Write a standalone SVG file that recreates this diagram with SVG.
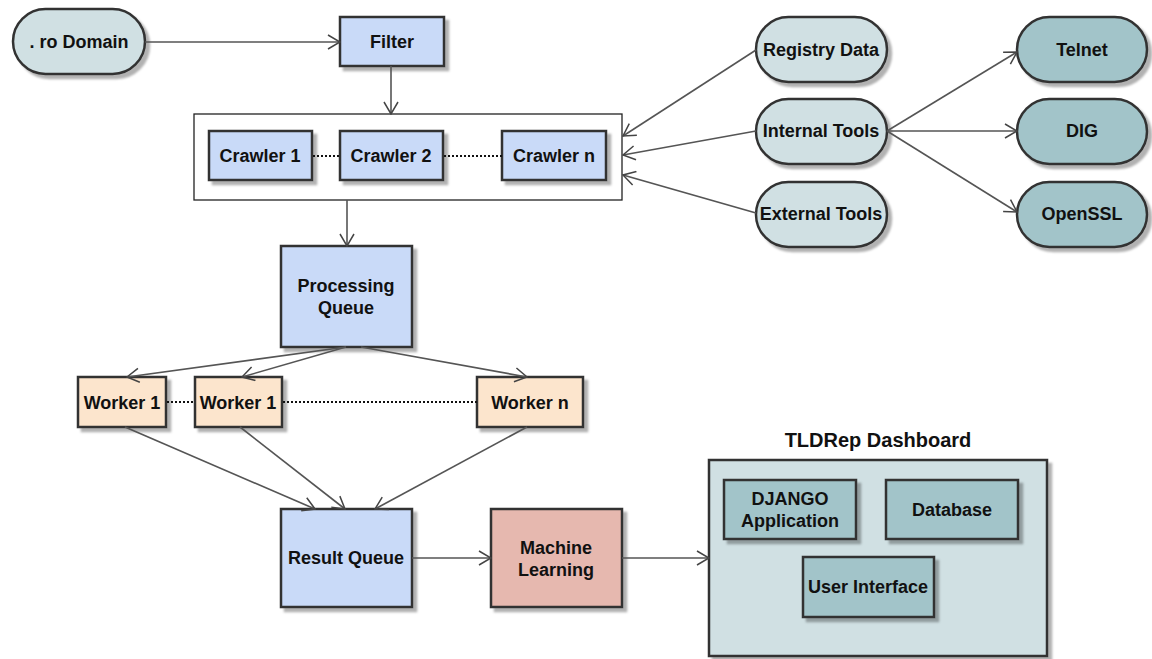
<svg xmlns="http://www.w3.org/2000/svg" width="1152" height="659" viewBox="0 0 1152 659">
<defs>
<filter id="sh" x="-10%" y="-10%" width="130%" height="130%">
<feDropShadow dx="4" dy="4" stdDeviation="1" flood-color="#000" flood-opacity="0.3"/>
</filter>
<marker id="arr" viewBox="0 0 14 16" refX="13" refY="8" markerWidth="14" markerHeight="16" markerUnits="userSpaceOnUse" orient="auto">
<path d="M1,1 L13,8 L1,15" fill="none" stroke="#444" stroke-width="1.5"/>
</marker>
</defs>
<style>
text{font-family:"Liberation Sans",Arial,sans-serif;font-weight:bold;font-size:18px;fill:#111;text-anchor:middle;dominant-baseline:central}
.box{stroke:#333;stroke-width:2.5;filter:url(#sh)}
.blue{fill:#c9daf8}
.pill{fill:#d0e0e3}
.teal{fill:#a2c4c9}
.work{fill:#fce5cd}
.ml{fill:#e6b8af}
.edge{fill:none;stroke:#555;stroke-width:1.6;marker-end:url(#arr)}
.dot{fill:none;stroke:#111;stroke-width:2;stroke-dasharray:2 2}
</style>

<g id="ro-domain"><rect class="box pill" x="13" y="9" width="132" height="65" rx="32.5"/><text x="79" y="42">. ro Domain</text></g>
<g id="filter"><rect class="box blue" x="340" y="17" width="104" height="49"/><text x="392" y="42">Filter</text></g>

<g id="crawlers">
<rect x="194" y="114" width="428" height="86" fill="#fff" stroke="#222" stroke-width="1.3"/>
</g>
<g id="crawler1"><rect class="box blue" x="209" y="131" width="103" height="49"/><text x="260" y="156">Crawler 1</text></g>
<g id="crawler2"><rect class="box blue" x="340" y="131" width="103" height="49"/><text x="391" y="156">Crawler 2</text></g>
<g id="crawlern"><rect class="box blue" x="502" y="131" width="104" height="49"/><text x="554" y="156">Crawler n</text></g>

<g id="registry-data"><rect class="box pill" x="756" y="17" width="131" height="65" rx="32.5"/><text x="821" y="50">Registry Data</text></g>
<g id="internal-tools"><rect class="box pill" x="756" y="99" width="131" height="65" rx="32.5"/><text x="821" y="131">Internal Tools</text></g>
<g id="external-tools"><rect class="box pill" x="756" y="182" width="131" height="65" rx="32.5"/><text x="821" y="214">External Tools</text></g>

<g id="telnet"><rect class="box teal" x="1017" y="17" width="130" height="65" rx="32.5"/><text x="1082" y="50">Telnet</text></g>
<g id="dig"><rect class="box teal" x="1017" y="99" width="130" height="65" rx="32.5"/><text x="1082" y="131">DIG</text></g>
<g id="openssl"><rect class="box teal" x="1017" y="182" width="130" height="65" rx="32.5"/><text x="1082" y="214">OpenSSL</text></g>

<g id="processing-queue"><rect class="box blue" x="281" y="246" width="131" height="101"/><text x="346" y="286">Processing</text><text x="346" y="308">Queue</text></g>

<g id="worker1a"><rect class="box work" x="78" y="377" width="88" height="50"/><text x="122" y="403">Worker 1</text></g>
<g id="worker1b"><rect class="box work" x="195" y="377" width="87" height="50"/><text x="238" y="403">Worker 1</text></g>
<g id="workern"><rect class="box work" x="477" y="377" width="106" height="50"/><text x="530" y="403">Worker n</text></g>

<g id="result-queue"><rect class="box blue" x="281" y="509" width="131" height="98"/><text x="346" y="558">Result Queue</text></g>
<g id="machine-learning"><rect class="box ml" x="491" y="509" width="131" height="98"/><text x="556" y="548">Machine</text><text x="556" y="570">Learning</text></g>

<g id="dashboard">
<text x="878" y="440" style="font-size:20px">TLDRep Dashboard</text>
<rect class="box pill" x="709" y="460" width="338" height="196"/>
</g>
<g id="django"><rect class="box teal" x="724" y="480" width="132" height="59"/><text x="790" y="499">DJANGO</text><text x="790" y="521">Application</text></g>
<g id="database"><rect class="box teal" x="886" y="480" width="132" height="59"/><text x="952" y="510">Database</text></g>
<g id="user-interface"><rect class="box teal" x="803" y="557" width="131" height="60"/><text x="868" y="587">User Interface</text></g>

<g id="connectors">
<line class="edge" x1="145" y1="42" x2="340" y2="42"/>
<line class="edge" x1="391" y1="66" x2="391" y2="114"/>
<line class="edge" x1="756" y1="50" x2="623" y2="136"/>
<line class="edge" x1="756" y1="131" x2="623" y2="155"/>
<line class="edge" x1="756" y1="213" x2="623" y2="175"/>
<line class="edge" x1="887" y1="131" x2="1017" y2="52"/>
<line class="edge" x1="887" y1="131" x2="1017" y2="131"/>
<line class="edge" x1="887" y1="131" x2="1017" y2="212"/>
<line class="edge" x1="347" y1="200" x2="347" y2="246"/>
<line class="edge" x1="346" y1="347" x2="127" y2="377"/>
<line class="edge" x1="346" y1="347" x2="242" y2="377"/>
<line class="edge" x1="361" y1="347" x2="527" y2="377"/>
<line class="edge" x1="125" y1="427" x2="315" y2="509"/>
<line class="edge" x1="240" y1="427" x2="345" y2="509"/>
<line class="edge" x1="527" y1="427" x2="375" y2="509"/>
<line class="edge" x1="412" y1="558" x2="491" y2="558"/>
<line class="edge" x1="622" y1="558" x2="709" y2="558"/>
<line class="dot" x1="313" y1="156" x2="340" y2="156"/>
<line class="dot" x1="444" y1="156" x2="502" y2="156"/>
<line class="dot" x1="167" y1="402" x2="195" y2="402"/>
<line class="dot" x1="283" y1="402" x2="477" y2="402"/>
</g>
</svg>
